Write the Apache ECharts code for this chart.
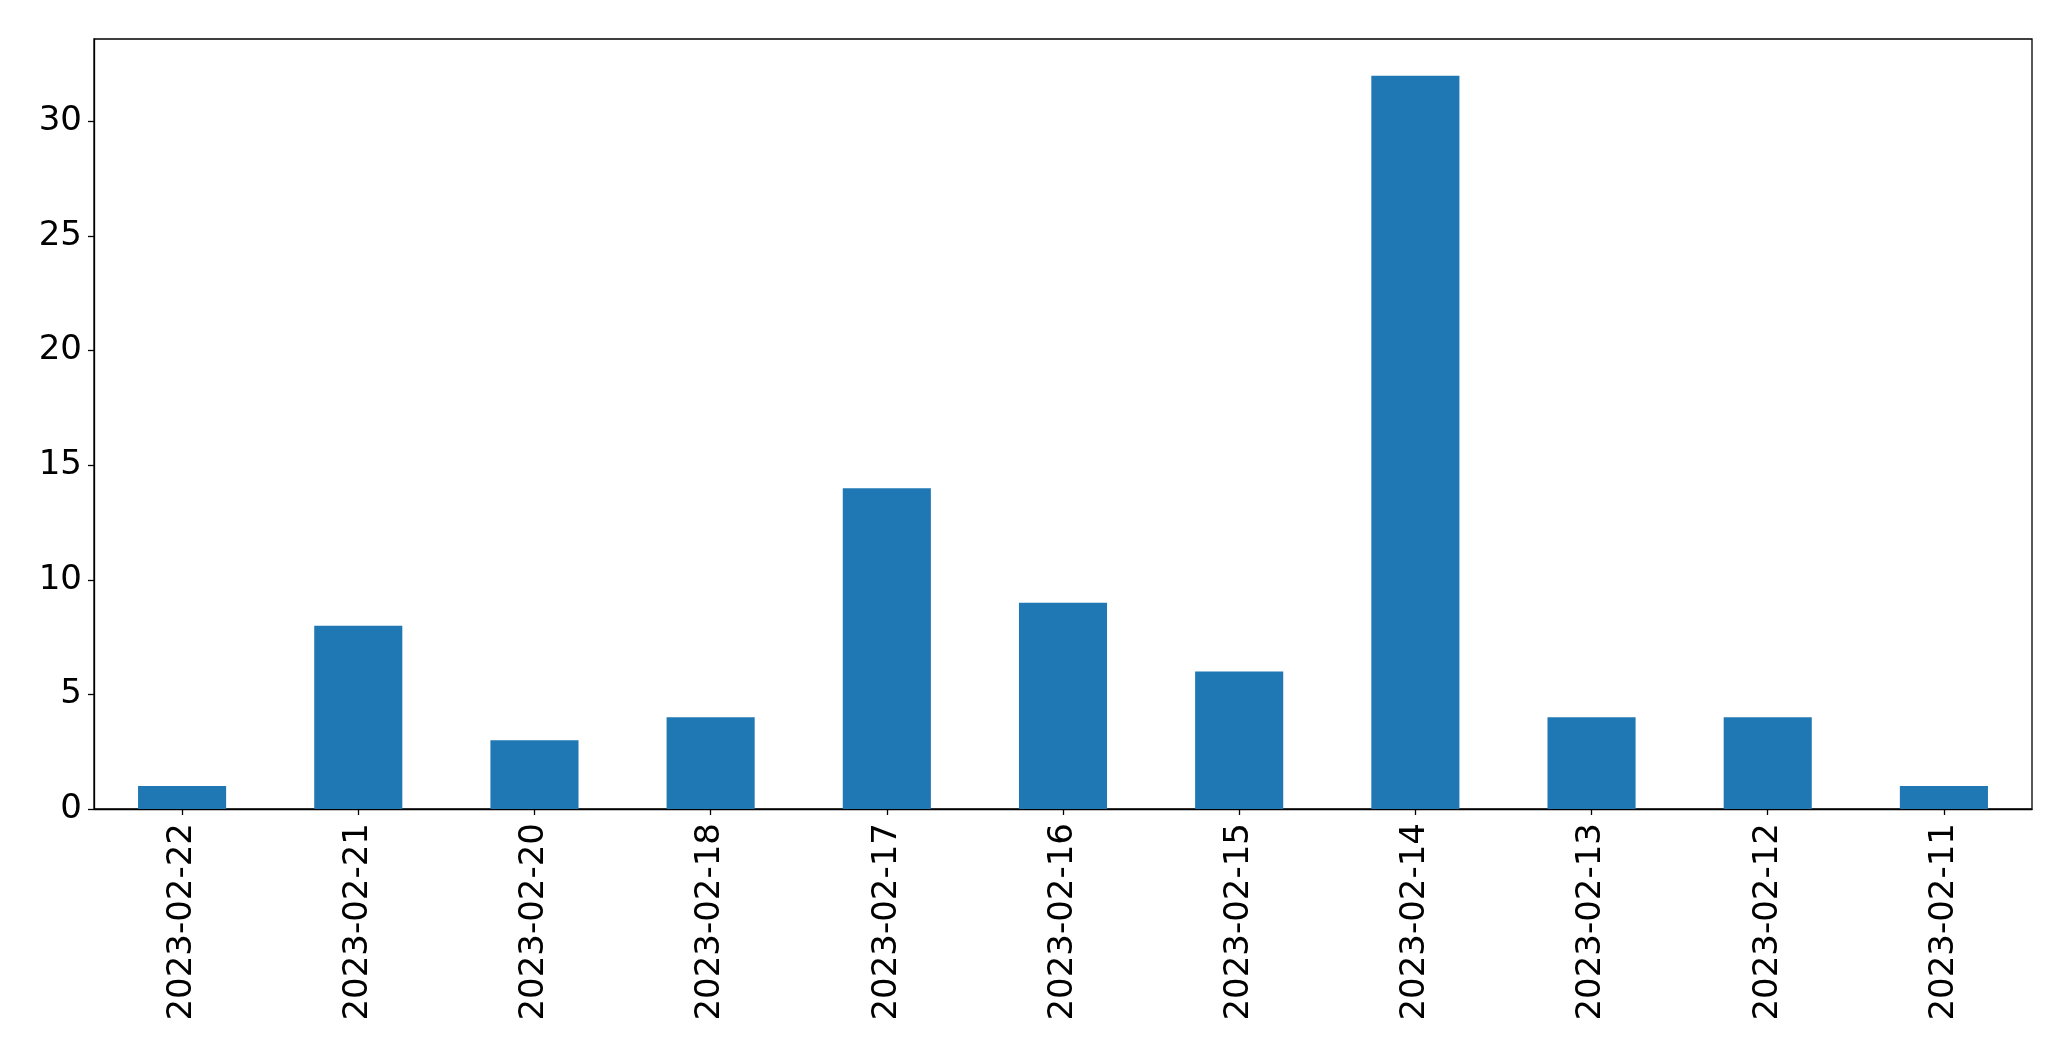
<!DOCTYPE html>
<html><head><meta charset="utf-8">
<script src="https://cdn.jsdelivr.net/npm/echarts@6/dist/echarts.min.js"></script>
<style>html,body{margin:0;padding:0;background:#fff}#c{width:2071px;height:1061px}</style>
</head><body><div id="c"></div>
<script>
const categories = ["2023-02-22","2023-02-21","2023-02-20","2023-02-18","2023-02-17","2023-02-16","2023-02-15","2023-02-14","2023-02-13","2023-02-12","2023-02-11"];
const counts = [1,8,3,4,14,9,6,32,4,4,1];
const yTicks = [0,5,10,15,20,25,30];

const chart = echarts.init(document.getElementById('c'), null, {renderer:'canvas'});
chart.setOption({
  animation:false,
  backgroundColor:'#fff',
  grid:{left:94,right:39,top:39,bottom:252,show:true,borderColor:'#000',borderWidth:1.3,backgroundColor:'transparent'},
  xAxis:{
    type:'category', data:categories, boundaryGap:true,
    axisLine:{show:true,lineStyle:{color:'#000',width:1.3}},
    axisTick:{show:true,alignWithLabel:true,length:6,lineStyle:{color:'#000',width:1.3}},
    axisLabel:{rotate:90,margin:14,fontFamily:'DejaVu Sans',fontSize:34,color:'#000'}
  },
  yAxis:{
    type:'value', min:0, max:33.6, interval:5,
    splitLine:{show:false},
    axisLine:{show:true,lineStyle:{color:'#000',width:1.3}},
    axisTick:{show:true,length:6,lineStyle:{color:'#000',width:1.3}},
    axisLabel:{margin:12,fontFamily:'DejaVu Sans',fontSize:34,color:'#000',
      formatter:v=>yTicks.includes(v)?String(v):'',showMaxLabel:false}
  },
  series:[{type:'bar',data:counts,barWidth:'50%',itemStyle:{color:'#1f77b4'}}]
});
</script></body></html>
